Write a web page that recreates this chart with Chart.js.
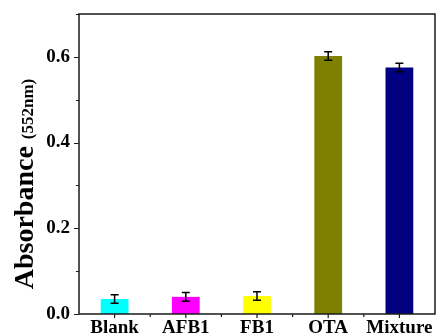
<!DOCTYPE html>
<html>
<head>
<meta charset="utf-8">
<script src="https://cdn.jsdelivr.net/npm/chart.js@4/dist/chart.umd.min.js"></script>
<style>
  html, body { margin: 0; padding: 0; background: #ffffff; }
  #wrap { width: 441px; height: 336px; }
</style>
</head>
<body>
<div id="wrap"><canvas id="c" width="441" height="336"></canvas></div>
<script>
// Samples and measured absorbance at 552 nm
const samples = ['Blank', 'AFB1', 'FB1', 'OTA', 'Mixture'];
const absorbance = [0.035, 0.040, 0.042, 0.602, 0.575];
const errors = [0.010, 0.010, 0.010, 0.010, 0.010];
const barColors = ['#00ffff', '#ff00ff', '#ffff00', '#808000', '#000080'];
const yTickValues = [0, 0.2, 0.4, 0.6];

const SERIF = '"Liberation Serif", "Times New Roman", serif';
const AXIS_COLOR = '#1a1a1a';

// Frame, tick marks, error bars and the two-size axis title
const decorations = {
  id: 'decorations',
  afterDatasetsDraw(chart) {
    const ctx = chart.ctx;
    const { left, right, top, bottom } = chart.chartArea;
    const xs = chart.scales.x, ys = chart.scales.y;
    ctx.save();

    // error bars
    const meta = chart.getDatasetMeta(0);
    ctx.strokeStyle = '#000000';
    ctx.lineWidth = 1.5;
    meta.data.forEach((bar, i) => {
      const x = bar.x;
      const yHi = ys.getPixelForValue(absorbance[i] + errors[i]);
      const yLo = ys.getPixelForValue(absorbance[i] - errors[i]);
      const cap = 4;
      ctx.beginPath();
      ctx.moveTo(x, yHi); ctx.lineTo(x, yLo);
      ctx.moveTo(x - cap, yHi); ctx.lineTo(x + cap, yHi);
      ctx.moveTo(x - cap, yLo); ctx.lineTo(x + cap, yLo);
      ctx.stroke();
    });

    // frame
    ctx.strokeStyle = AXIS_COLOR;
    ctx.lineWidth = 1.5;
    ctx.strokeRect(left, top, right - left, bottom - top);

    // y ticks: major every 0.2, minor in between
    ctx.lineWidth = 1.2;
    ctx.beginPath();
    for (let k = 0; k <= 7; k++) {
      const v = k / 10;
      const py = Math.round(ys.getPixelForValue(v)) + 0.5;
      const len = (k % 2 === 0) ? 5 : 3;
      ctx.moveTo(left, py); ctx.lineTo(left - len, py);
    }
    // x ticks at category centres and boundaries
    const n = samples.length;
    for (let i = 0; i < n; i++) {
      const px = xs.getPixelForValue(i);
      ctx.moveTo(px, bottom); ctx.lineTo(px, bottom + 4);
      if (i < n - 1) {
        const pb = (px + xs.getPixelForValue(i + 1)) / 2;
        ctx.moveTo(pb, bottom); ctx.lineTo(pb, bottom + 3);
      }
    }
    ctx.stroke();

    // axis title: "Absorbance" with a smaller "(552nm)"
    const big = 'bold 28px ' + SERIF;
    const small = 'bold 17px ' + SERIF;
    const t1 = 'Absorbance ';
    const t2 = '(552nm)';
    ctx.font = big; const w1 = ctx.measureText(t1).width;
    ctx.font = small; const w2 = ctx.measureText(t2).width;
    const total = w1 + w2;
    const cy = 184;
    ctx.translate(33, cy);
    ctx.rotate(-Math.PI / 2);
    ctx.fillStyle = '#000000';
    ctx.textBaseline = 'alphabetic';
    ctx.textAlign = 'left';
    ctx.font = big; ctx.fillText(t1, -total / 2, 0);
    ctx.font = small; ctx.fillText(t2, -total / 2 + w1, 0);
    ctx.restore();
  }
};

new Chart(document.getElementById('c'), {
  type: 'bar',
  data: {
    labels: samples,
    datasets: [{
      data: absorbance,
      backgroundColor: barColors,
      borderColor: barColors,
      borderWidth: 0,
      barPercentage: 0.39,
      categoryPercentage: 1.0
    }]
  },
  options: {
    responsive: false,
    animation: false,
    layout: { padding: { left: 0, top: 14, right: 6, bottom: 0 } },
    plugins: { legend: { display: false }, tooltip: { enabled: false } },
    scales: {
      x: {
        offset: true,
        grid: { display: false, drawTicks: false },
        border: { display: false },
        ticks: {
          color: '#000000',
          padding: 3,
          maxRotation: 0,
          autoSkip: false,
          font: { family: SERIF, size: 19, weight: 'bold' }
        },
        afterFit(s) { s.height = 22; s.paddingLeft = 0; s.paddingRight = 0; }
      },
      y: {
        min: 0,
        max: 0.7,
        afterBuildTicks(s) { s.ticks = yTickValues.map(v => ({ value: v })); },
        grid: { display: false, drawTicks: false },
        border: { display: false },
        ticks: {
          color: '#000000',
          padding: 9,
          font: { family: SERIF, size: 19, weight: 'bold' },
          callback: v => Number(v).toFixed(1)
        },
        afterFit(s) { s.width = 79; s.paddingTop = 0; s.paddingBottom = 0; }
      }
    }
  },
  plugins: [decorations]
});
</script>
</body>
</html>
